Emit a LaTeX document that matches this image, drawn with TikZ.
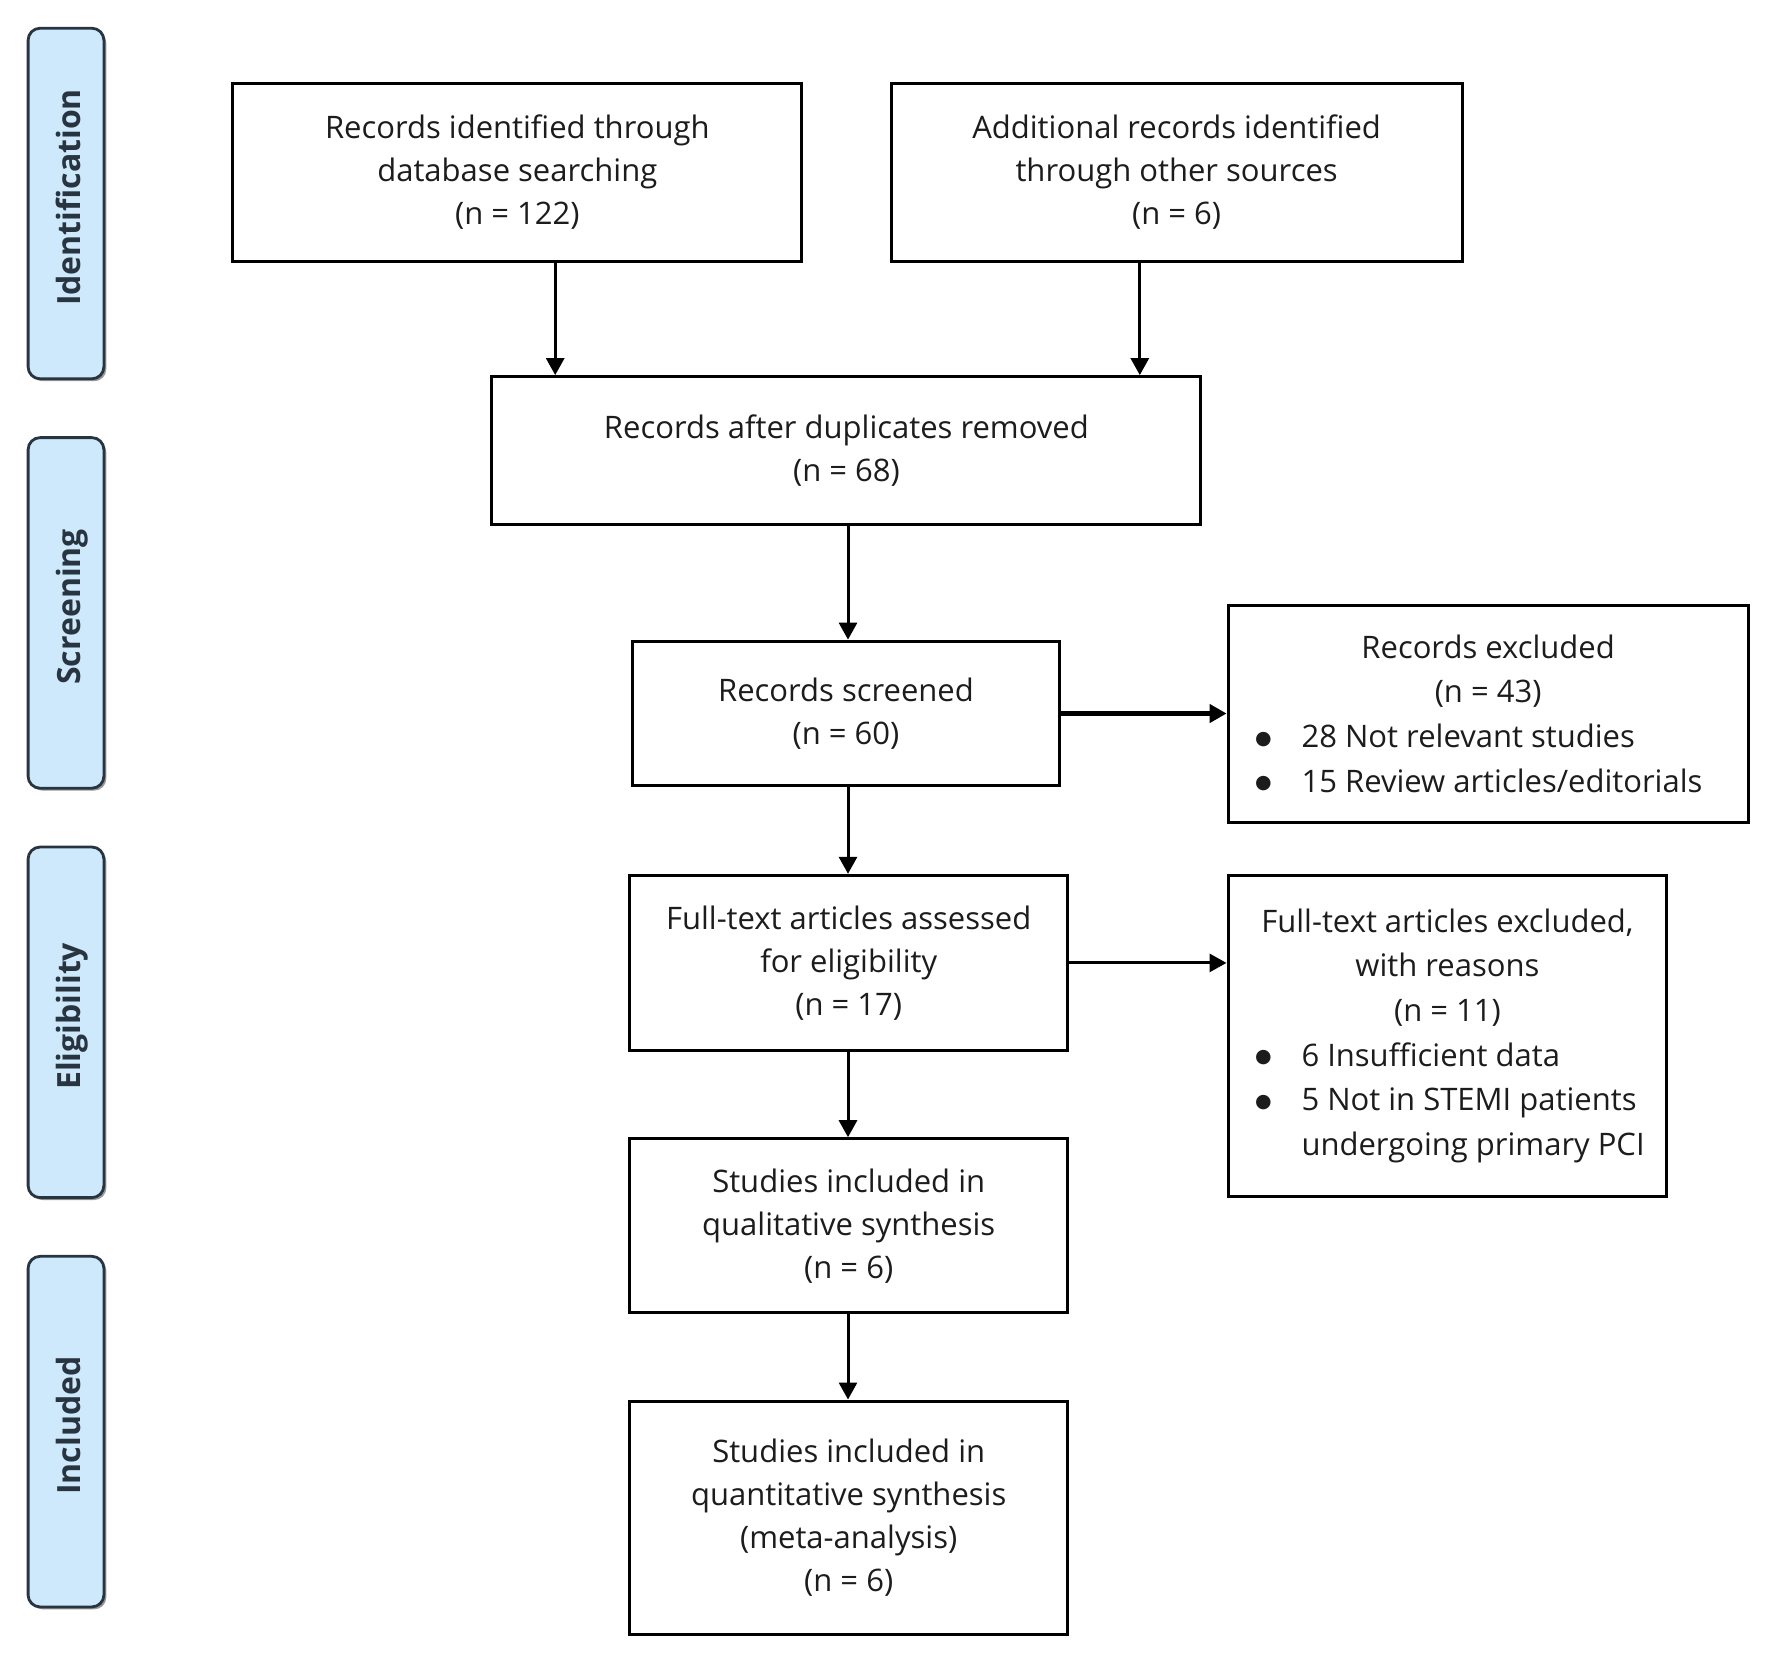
\documentclass[tikz,border=0pt]{standalone}
\usepackage{fontspec}
\setmainfont{Open Sans}
\newfontfamily\dejavu{DejaVu Sans}
\usetikzlibrary{arrows.meta,shadows}
\definecolor{phaseblue}{RGB}{206,233,251}
\definecolor{phaseline}{RGB}{40,52,64}
\definecolor{txt}{RGB}{28,28,28}
\newcommand{\bulglyph}{\raisebox{1.6pt}{\dejavu\fontsize{9.5}{9.5}\selectfont ●}}
\newcommand{\ctrline}[1]{\makebox[\linewidth]{#1}}
\newcommand{\bulline}[1]{\makebox[\linewidth][l]{\makebox[23.25pt][l]{\bulglyph}#1}}
\newcommand{\indline}[1]{\makebox[\linewidth][l]{\hspace*{23.25pt}#1}}
\begin{document}
\begin{tikzpicture}[x=0.5pt,y=-0.5pt,
  box/.style={draw=black, line width=1.5pt, inner sep=0pt, align=center,
    font=\fontsize{15.5}{21.5}\selectfont, text=txt},
  listbox/.style={draw=black, line width=1.5pt, inner sep=0pt,
    font=\fontsize{15.5}{22.3}\selectfont, text=txt},
  phase/.style={draw=phaseline, fill=phaseblue, line width=1.4pt, rounded corners=6pt,
    minimum width=37.9pt, minimum height=175.3pt, inner sep=0pt,
    drop shadow={shadow xshift=1.2pt, shadow yshift=-1.2pt, fill=black!40, opacity=1}},
  phasetext/.style={rotate=90, anchor=base, font=\bfseries\fontsize{16}{18}\selectfont, text=phaseline, inner sep=0pt},
  arr/.style={line width=1.5pt, -{Triangle[width=9pt,length=8.5pt]}},
  arrthick/.style={line width=2.4pt, -{Triangle[width=9pt,length=8.5pt]}},
]
\useasboundingbox[fill=white] (0,0) rectangle (1772,1662);

% phase labels
\node[phase] (pid) at (66,203.5) {};
\node[phasetext] (tid) at (80,197.5) {Identification};
\node[phase] (psc) at (66,612.9) {};
\node[phasetext] (tsc) at (80,606.9) {Screening};
\node[phase] (pel) at (66,1022.3) {};
\node[phasetext] (tel) at (80,1016.3) {Eligibility};
\node[phase] (pin) at (66,1431.6) {};
\node[phasetext] (tin) at (80,1425.6) {Included};

% boxes
\node[box, minimum width=284.4pt, minimum height=88.8pt] (b1) at (517.3,172.5)
  {Records identified through\\database searching\\(n = 122)};
\node[box, minimum width=285.5pt, minimum height=88.8pt] (b2) at (1176.6,172.5)
  {Additional records identified\\through other sources\\(n = 6)};
\node[box, minimum width=354.5pt, minimum height=74pt] (b3) at (846.4,450.6)
  {Records after duplicates removed\\(n = 68)};
\node[box, minimum width=213.7pt, minimum height=72.4pt] (b4) at (846,713.5)
  {Records screened\\(n = 60)};
\node[listbox, minimum width=260pt, minimum height=108.5pt] (b5) at (1488.1,713.5)
  {\parbox{233pt}{\ctrline{Records excluded}\\\ctrline{(n = 43)}\\\bulline{28 Not relevant studies}\\\bulline{15 Review articles/editorials}}};
\node[box, minimum width=218.8pt, minimum height=87.6pt] (b6) at (848.7,962.9)
  {Full-text articles assessed\\for eligibility\\(n = 17)};
\node[listbox, minimum width=219.4pt, minimum height=160.6pt] (b7) at (1447.4,1035.8)
  {\parbox{192.4pt}{\ctrline{Full-text articles excluded,}\\\ctrline{with reasons}\\\ctrline{(n = 11)}\\\bulline{6 Insufficient data}\\\bulline{5 Not in STEMI patients}\\\indline{undergoing primary PCI}}};
\node[box, minimum width=218.8pt, minimum height=87.1pt] (b8) at (848.7,1225.8)
  {Studies included in\\qualitative synthesis\\(n = 6)};
\node[box, minimum width=218.8pt, minimum height=116.5pt] (b9) at (848.7,1517.5)
  {Studies included in\\quantitative synthesis\\(meta-analysis)\\(n = 6)};

% connectors
\coordinate (c1) at (555.2,0);
\coordinate (c2) at (1139.8,0);
\coordinate (cm) at (848,0);
\draw[arr] (c1 |- b1.south) -- (c1 |- b3.north);
\draw[arr] (c2 |- b2.south) -- (c2 |- b3.north);
\draw[arr] (cm |- b3.south) -- (cm |- b4.north);
\draw[arrthick] (b4.east) -- (b4.east -| b5.west);
\draw[arr] (cm |- b4.south) -- (cm |- b6.north);
\draw[arr] (b6.east) -- (b6.east -| b7.west);
\draw[arr] (cm |- b6.south) -- (cm |- b8.north);
\draw[arr] (cm |- b8.south) -- (cm |- b9.north);
\end{tikzpicture}
\end{document}
